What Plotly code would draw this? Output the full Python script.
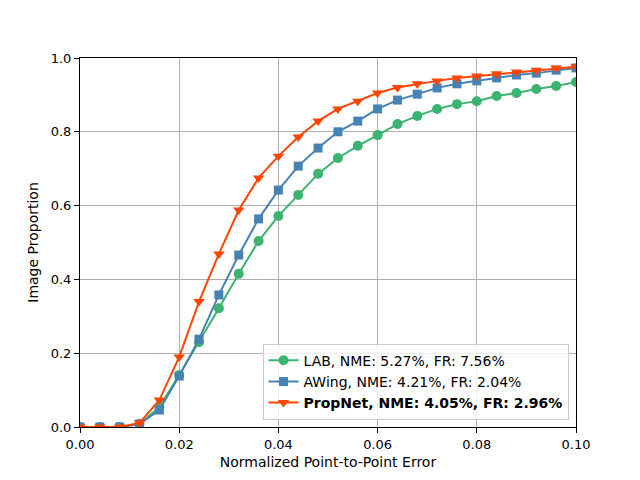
import plotly.graph_objects as go

x_err = [0.000, 0.004, 0.008, 0.012, 0.016, 0.020, 0.024, 0.028, 0.032, 0.036,
         0.040, 0.044, 0.048, 0.052, 0.056, 0.060, 0.064, 0.068, 0.072, 0.076,
         0.080, 0.084, 0.088, 0.092, 0.096, 0.100]

lab = [0.0, 0.0, 0.0, 0.008, 0.054, 0.141, 0.230, 0.322, 0.415, 0.504,
       0.572, 0.629, 0.686, 0.729, 0.762, 0.791, 0.821, 0.843, 0.862, 0.875,
       0.883, 0.897, 0.905, 0.916, 0.924, 0.935]

awing = [0.0, 0.0, 0.0, 0.008, 0.046, 0.138, 0.238, 0.358, 0.466, 0.564,
         0.642, 0.707, 0.756, 0.800, 0.829, 0.862, 0.886, 0.902, 0.919, 0.930,
         0.938, 0.946, 0.954, 0.959, 0.967, 0.973]

propnet = [0.0, 0.0, 0.0, 0.011, 0.073, 0.190, 0.340, 0.469, 0.588, 0.675,
           0.734, 0.786, 0.829, 0.862, 0.883, 0.905, 0.920, 0.930, 0.938, 0.946,
           0.951, 0.957, 0.962, 0.967, 0.973, 0.976]

names = ["LAB, NME: 5.27%, FR: 7.56%",
         "AWing, NME: 4.21%, FR: 2.04%",
         "<b>PropNet, NME: 4.05%, FR: 2.96%</b>"]

fig = go.Figure()
fig.add_trace(go.Scatter(x=x_err, y=lab, name=names[0], mode="lines+markers",
                         line=dict(color="#3cb371", width=2),
                         marker=dict(symbol="circle", size=10, color="#3cb371")))
fig.add_trace(go.Scatter(x=x_err, y=awing, name=names[1], mode="lines+markers",
                         line=dict(color="#4682b4", width=2),
                         marker=dict(symbol="square", size=9, color="#4682b4")))
fig.add_trace(go.Scatter(x=x_err, y=propnet, name=names[2], mode="lines+markers",
                         line=dict(color="#ff4500", width=2),
                         marker=dict(symbol="triangle-down", size=10, color="#ff4500")))

axis_style = dict(showline=True, linecolor="black", linewidth=1, mirror=True,
                  ticks="outside", ticklen=5, tickcolor="black",
                  showgrid=True, gridcolor="#b0b0b0", gridwidth=1,
                  zeroline=False, tickfont=dict(size=13, color="black"))

# page body has an 8px margin, so the margins are shifted to match
fig.update_layout(
    width=640, height=480,
    margin=dict(l=72, r=72, t=50, b=61),
    plot_bgcolor="white", paper_bgcolor="white",
    font=dict(family="DejaVu Sans", size=13, color="black"),
    xaxis=dict(range=[0, 0.1], tickvals=[0, 0.02, 0.04, 0.06, 0.08, 0.1],
               tickformat=".2f",
               title=dict(text="Normalized Point-to-Point Error", standoff=6,
                          font=dict(size=14)),
               **axis_style),
    yaxis=dict(range=[0, 1], tickvals=[0, 0.2, 0.4, 0.6, 0.8, 1.0],
               tickformat=".1f",
               title=dict(text="Image Proportion", standoff=8,
                          font=dict(size=14)),
               **axis_style),
    legend=dict(x=0.985, y=0.02, xanchor="right", yanchor="bottom",
                bgcolor="rgba(255,255,255,0.8)", bordercolor="#cccccc",
                borderwidth=1, font=dict(size=14), tracegroupgap=0),
)

fig.write_html("out.html")
